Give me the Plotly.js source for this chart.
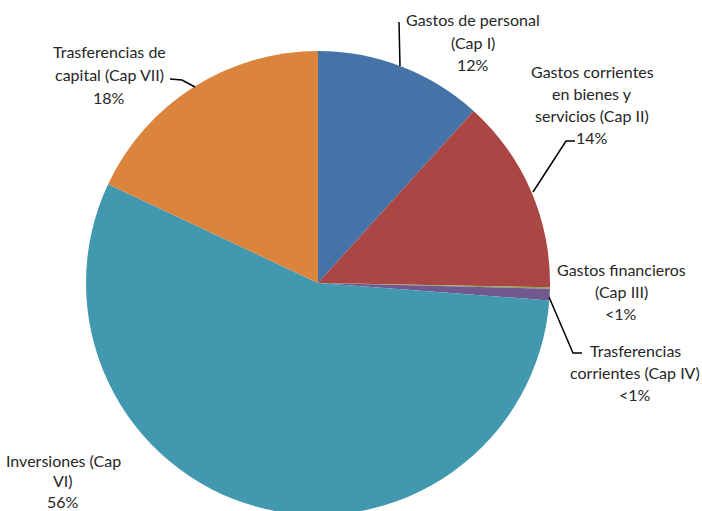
<!DOCTYPE html>
<html>
<head>
<meta charset="utf-8">
<script src="https://cdn.plot.ly/plotly-3.0.1.min.js"></script>
<style>html,body{margin:0;padding:0;overflow:hidden;background:#fff;}#chart{width:702px;height:530px;}</style>
</head>
<body>
<div id="chart"></div>
<script>
const categories = ['Gastos de personal (Cap I)', 'Gastos corrientes en bienes y servicios (Cap II)', 'Gastos financieros (Cap III)', 'Trasferencias corrientes (Cap IV)', 'Inversiones (Cap VI)', 'Trasferencias de capital (Cap VII)'];
const values = [11.7, 13.6, 0.1, 0.8, 55.8, 18.0];
const pctLabels = ['12%', '14%', '<1%', '<1%', '56%', '18%'];
const labelLines = [
  ['Gastos de personal', '(Cap I)'],
  ['Gastos corrientes', 'en bienes y', 'servicios (Cap II)'],
  ['Gastos financieros', '(Cap III)'],
  ['Trasferencias', 'corrientes (Cap IV)'],
  ['Inversiones (Cap', 'VI)'],
  ['Trasferencias de', 'capital (Cap VII)']
];
const colors = ['#4572A7', '#AA4643', '#89A54E', '#71588F', '#4198AF', '#DB843D'];

const W = 702, H = 530;
const px = x => x / W;
const py = y => 1 - y / H;

// label block centre x and first-line y (pixels)
const labelPos = [[473, 20], [592, 72], [621, 269], [635, 350], [63, 460], [109, 52]];
const lineGaps = [22.5, 21.8, 22, 22.5, 20.5, 23];

const annotations = [];
labelLines.forEach((lines, i) => {
  const all = lines.concat([pctLabels[i]]);
  all.forEach((t, j) => {
    annotations.push({
      xref: 'paper', yref: 'paper',
      x: px(labelPos[i][0]), y: py(labelPos[i][1] + j * lineGaps[i]),
      text: t, showarrow: false, xanchor: 'center', yanchor: 'middle',
      font: {family: 'Lato, "Open Sans", sans-serif', size: 16, color: '#262626'}
    });
  });
});

function path(pts) {
  return pts.map((p, k) => (k ? 'L' : 'M') + px(p[0]).toFixed(5) + ',' + py(p[1]).toFixed(5)).join(' ');
}
const leaders = [
  [[399, 22], [400, 66]],
  [[575, 141], [566, 141], [533, 192]],
  [[549, 297], [573, 353], [582, 353]],
  [[170, 79], [182, 80], [195, 87]]
];
const shapes = leaders.map(p => ({
  type: 'path', xref: 'paper', yref: 'paper', path: path(p),
  line: {color: '#000', width: 1.5}
}));

const data = [{
  type: 'pie',
  labels: categories,
  values: values,
  sort: false,
  direction: 'clockwise',
  rotation: 0,
  textinfo: 'none',
  hoverinfo: 'label+percent',
  marker: {colors: colors, line: {width: 0}},
  domain: {x: [px(86), px(550)], y: [py(515), py(51)]},
  showlegend: false
}];

const layout = {
  width: W, height: H,
  margin: {l: 0, r: 0, t: 0, b: 0},
  paper_bgcolor: '#fff',
  showlegend: false,
  annotations: annotations,
  shapes: shapes
};

Plotly.newPlot('chart', data, layout, {displayModeBar: false, staticPlot: true});
</script>
</body>
</html>
